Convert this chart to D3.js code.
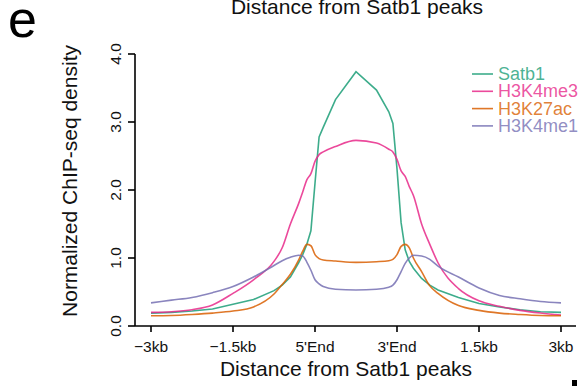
<!DOCTYPE html>
<html>
<head>
<meta charset="utf-8">
<script src="https://cdn.jsdelivr.net/npm/d3@7.9.0/dist/d3.min.js"></script>
<style>
  html, body { margin: 0; padding: 0; background: #fff; }
  svg { display: block; font-family: 'Liberation Sans', Arial, sans-serif; }
</style>
</head>
<body>
<div id="chart"></div>
<script>
// positions along the metagene axis: 0 = -3kb, 2 = 5'End, 3 = 3'End, 5 = 3kb
const positions = [0, 0.25, 0.5, 0.75, 1, 1.25, 1.5, 1.6, 1.7, 1.8, 1.85, 1.9, 1.95, 2.0, 2.05, 2.1, 2.25, 2.5,
  2.75, 2.9, 2.95, 3.0, 3.05, 3.1, 3.15, 3.2, 3.3, 3.4, 3.5, 3.75, 4, 4.25, 4.5, 4.75, 5];

const satb1 = [0.19, 0.2, 0.22, 0.25, 0.32, 0.39, 0.52, 0.6, 0.72, 0.93, 1.05, 1.2, 1.4, 2.1, 2.78, 2.92, 3.33, 3.74,
  3.47, 3.15, 2.98, 2.31, 1.52, 1.12, 0.95, 0.85, 0.7, 0.6, 0.53, 0.42, 0.33, 0.28, 0.24, 0.21, 0.2];
const h3k4me3 = [0.2, 0.21, 0.24, 0.31, 0.48, 0.68, 0.95, 1.15, 1.5, 1.8, 1.97, 2.15, 2.24, 2.42, 2.52, 2.56, 2.64, 2.73,
  2.69, 2.6, 2.56, 2.45, 2.28, 2.2, 2.05, 1.92, 1.5, 1.2, 0.93, 0.55, 0.37, 0.29, 0.23, 0.19, 0.16];
const h3k27ac = [0.15, 0.155, 0.17, 0.19, 0.22, 0.28, 0.47, 0.61, 0.76, 0.97, 1.1, 1.2, 1.18, 1.05, 0.99, 0.97, 0.955, 0.935,
  0.945, 0.96, 0.98, 1.05, 1.17, 1.2, 1.15, 1.0, 0.8, 0.59, 0.48, 0.3, 0.23, 0.19, 0.17, 0.155, 0.15];
const h3k4me1 = [0.34, 0.38, 0.42, 0.49, 0.58, 0.72, 0.89, 0.96, 1.01, 1.04, 1.03, 0.94, 0.82, 0.68, 0.62, 0.58, 0.54, 0.53,
  0.54, 0.57, 0.6, 0.68, 0.8, 0.92, 1.0, 1.04, 1.03, 0.98, 0.88, 0.72, 0.56, 0.45, 0.4, 0.36, 0.34];

const seriesNames = ['Satb1', 'H3K4me3', 'H3K27ac', 'H3K4me1'];
const seriesColors = ['#1b9e77', '#e7298a', '#d95f02', '#7570b3'];
const xTickValues = [0, 1, 2, 3, 4, 5];
const xTickLabels = ['\u22123kb', '\u22121.5kb', "5'End", "3'End", '1.5kb', '3kb'];
const yTickValues = [0, 1, 2, 3, 4];

const series = [satb1, h3k4me3, h3k27ac, h3k4me1].map((vals, i) => ({
  name: seriesNames[i],
  color: seriesColors[i],
  // the Satb1 profile is drawn as a plain polyline, like in the figure
  curve: i === 0 ? d3.curveLinear : d3.curveMonotoneX,
  values: vals.map((v, j) => [positions[j], v])
}));

const W = 581, H = 386;
const svg = d3.select('#chart').append('svg').attr('width', W).attr('height', H);

const x = d3.scaleLinear().domain([0, 5]).range([151, 561]);
const y = d3.scaleLinear().domain([0, 4]).range([326, 54]);

// panel letter
svg.append('text').attr('x', 8).attr('y', 37).attr('font-size', 52).attr('fill', '#000').text('e');

// cut-off title at top
svg.append('text').attr('x', 357).attr('y', 14).attr('text-anchor', 'middle')
  .attr('font-size', 21).attr('fill', '#111').text('Distance from Satb1 peaks');

// x axis
const xAxis = svg.append('g').attr('transform', 'translate(0,326)');
xAxis.append('line').attr('x1', 135).attr('x2', 576).attr('y1', 0).attr('y2', 0)
  .attr('stroke', '#000').attr('stroke-width', 1.6);
xAxis.selectAll('line.tick').data(xTickValues).join('line').attr('class', 'tick')
  .attr('x1', d => x(d)).attr('x2', d => x(d)).attr('y1', 0).attr('y2', 6)
  .attr('stroke', '#000').attr('stroke-width', 1.6);
xAxis.selectAll('text').data(xTickValues).join('text')
  .attr('x', d => x(d)).attr('y', 26).attr('text-anchor', 'middle')
  .attr('font-size', 15.5).attr('fill', '#111')
  .text((d, i) => xTickLabels[i]);

// y axis
const yAxis = svg.append('g').attr('transform', 'translate(135,0)');
yAxis.append('line').attr('x1', 0).attr('x2', 0).attr('y1', y(4)).attr('y2', y(0))
  .attr('stroke', '#000').attr('stroke-width', 1.6);
yAxis.selectAll('line.tick').data(yTickValues).join('line').attr('class', 'tick')
  .attr('x1', -7).attr('x2', 0).attr('y1', d => y(d)).attr('y2', d => y(d))
  .attr('stroke', '#000').attr('stroke-width', 1.6);
yAxis.selectAll('text').data(yTickValues).join('text')
  .attr('transform', d => `translate(-14,${y(d)}) rotate(-90)`)
  .attr('text-anchor', 'middle').attr('font-size', 15.5).attr('fill', '#111')
  .text(d => d.toFixed(1));

// axis titles
svg.append('text').attr('x', 346).attr('y', 376).attr('text-anchor', 'middle')
  .attr('font-size', 21).attr('fill', '#111').text('Distance from Satb1 peaks');
svg.append('text').attr('transform', 'translate(77,181) rotate(-90)')
  .attr('text-anchor', 'middle').attr('font-size', 21).attr('fill', '#111')
  .text('Normalized ChIP-seq density');

// lines
svg.append('g').selectAll('path').data(series).join('path')
  .attr('d', d => d3.line().x(p => x(p[0])).y(p => y(p[1])).curve(d.curve)(d.values))
  .attr('fill', 'none').attr('stroke', d => d.color)
  .attr('stroke-opacity', 0.85).attr('stroke-width', 1.6);

// legend
const legend = svg.append('g').selectAll('g').data(series).join('g')
  .attr('transform', (d, i) => `translate(472,${74 + i * 17.3})`);
legend.append('line').attr('x1', 0).attr('x2', 21).attr('y1', 0).attr('y2', 0)
  .attr('stroke', d => d.color).attr('stroke-width', 1.6).attr('stroke-opacity', 0.85);
legend.append('text').attr('x', 26).attr('y', 6).attr('font-size', 18)
  .attr('fill', d => d.color).attr('fill-opacity', 0.8).text(d => d.name);

// edge of the next panel visible in the corner
svg.append('rect').attr('x', 572).attr('y', 380).attr('width', 5).attr('height', 6).attr('fill', '#000');
</script>
</body>
</html>
